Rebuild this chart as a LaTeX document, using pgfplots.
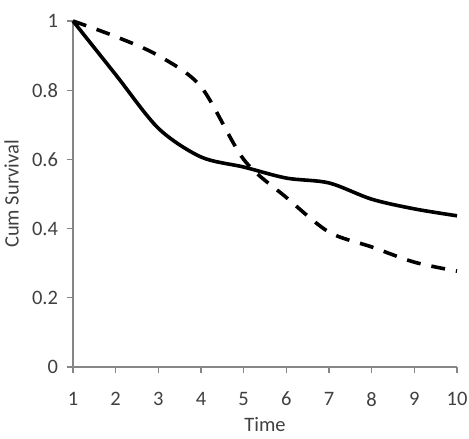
\documentclass[border=0pt]{standalone}
\usepackage{pgfplots}
\pgfplotsset{compat=1.18}
\usepackage{fontspec}
\setmainfont{Carlito}
\definecolor{axgray}{HTML}{868686}
\definecolor{lblgray}{HTML}{404040}
\begin{document}
\fontsize{20.5}{24}\selectfont
\begin{tikzpicture}[font=\fontsize{20.5}{24}\selectfont]
\useasboundingbox (-73pt,-72pt) rectangle (396pt,367pt);
\begin{axis}[
  at={(0pt,0pt)}, anchor=origin,
  scale only axis, width=384pt, height=346pt,
  xmin=1, xmax=10, ymin=0, ymax=1,
  axis x line*=bottom, axis y line*=left,
  axis line style={axgray, line width=1.3pt, -},
  xtick={1,...,10}, ytick={0,0.2,0.4,0.6,0.8,1},
  tick style={axgray, line width=1.3pt},
  tick align=outside, major tick length=6pt,
  /pgf/number format/assume math mode=true,
  ticklabel style={font=\fontsize{20.5}{24}\selectfont, text=lblgray},
  xticklabel style={yshift=-12pt},
  yticklabel style={/pgf/number format/fixed, /pgf/number format/precision=1, xshift=-2pt},
  xlabel={Time}, ylabel={Cum Survival},
  label style={font=\fontsize{20.5}{24}\selectfont, text=lblgray},
  xlabel style={at={(axis description cs:0.5,0)}, anchor=center, yshift=-58pt},
  ylabel style={at={(axis description cs:-0.16,0.5)}, anchor=center},
  clip=false,
]
\addplot[black, line width=3.6pt, smooth, tension=0.5] coordinates {
(1,1.0) (2,0.845) (3,0.69) (4,0.607) (5,0.578) (6,0.546) (7,0.532) (8,0.485) (9,0.457) (10,0.437)
};
\addplot[black, line width=3.6pt, smooth, tension=0.5, dash pattern=on 14pt off 11pt] coordinates {
(1,1.0) (2,0.955) (3,0.90) (4,0.81) (5,0.60) (6,0.49) (7,0.39) (8,0.347) (9,0.303) (10,0.277)
};
\end{axis}
\end{tikzpicture}
\end{document}
